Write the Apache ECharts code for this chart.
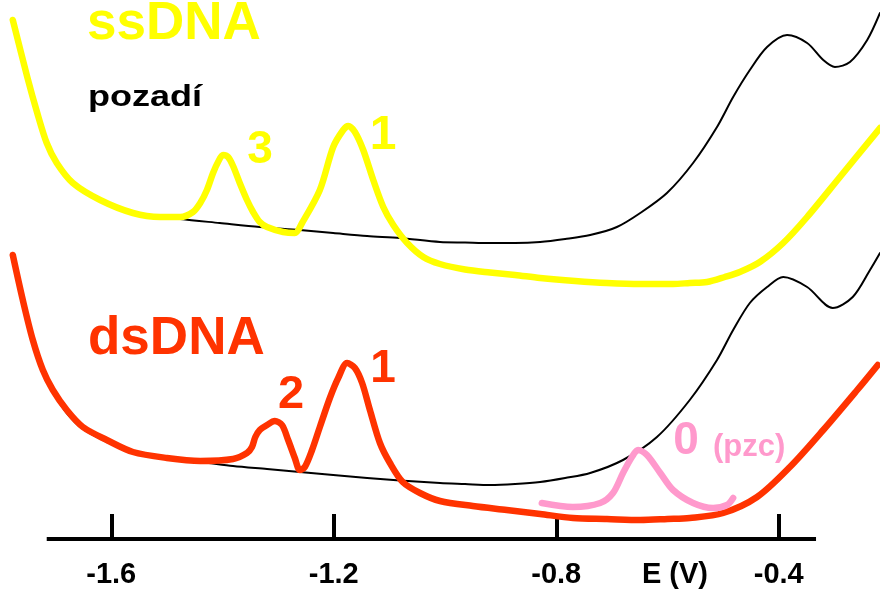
<!DOCTYPE html>
<html>
<head>
<meta charset="utf-8">
<script src="https://cdn.jsdelivr.net/npm/echarts@6/dist/echarts.min.js"></script>
<style>html,body{margin:0;padding:0;background:#fff}#c{width:880px;height:594px}</style>
</head>
<body>
<div id="c"></div>
<script>
// Potential E (V) and current (arbitrary units, 0 = axis baseline)
const tickValues = [-1.6, -1.2, -0.8, -0.4];
const axisName = 'E (V)';
const axisSpan = [-1.716, -0.333];

const ssDNA = [[-1.777,519],[-1.751,462],[-1.733,426],[-1.716,396],[-1.698,376],[-1.669,356],[-1.620,339],[-1.561,326],[-1.512,322],[-1.476,322],[-1.453,327],[-1.440,336],[-1.428,349],[-1.417,366],[-1.408,377],[-1.399,384],[-1.390,382],[-1.381,373],[-1.369,356],[-1.356,339],[-1.345,327],[-1.333,317],[-1.320,312],[-1.291,307],[-1.270,306],[-1.257,316],[-1.225,349],[-1.201,392],[-1.183,409],[-1.174,413],[-1.162,407],[-1.147,389],[-1.129,359],[-1.111,332],[-1.093,314],[-1.068,296],[-1.039,282],[-1.009,275],[-0.964,269.5],[-0.919,266.5],[-0.874,264],[-0.829,261],[-0.766,258],[-0.709,256],[-0.649,255],[-0.590,255],[-0.560,256],[-0.529,257],[-0.497,262],[-0.470,267],[-0.434,277],[-0.392,296],[-0.349,322],[-0.290,362],[-0.218,411]];

const backgroundUpper = [[-1.548,325],[-1.476,320],[-1.405,316],[-1.333,312],[-1.261,309],[-1.201,306],[-1.140,303],[-1.081,301],[-1.009,297],[-0.964,296.5],[-0.919,296],[-0.874,296],[-0.829,297],[-0.784,300],[-0.739,304],[-0.691,312],[-0.649,326],[-0.601,346],[-0.554,376],[-0.511,412],[-0.482,442],[-0.452,469],[-0.421,492],[-0.385,504],[-0.349,496],[-0.320,479],[-0.299,472],[-0.272,477],[-0.241,499],[-0.218,526]];

const dsDNA = [[-1.777,284],[-1.759,239],[-1.741,199],[-1.723,169],[-1.705,149],[-1.680,129],[-1.651,112],[-1.608,99],[-1.561,87],[-1.500,81],[-1.440,78],[-1.381,80],[-1.356,86],[-1.347,92],[-1.341,102],[-1.333,109],[-1.320,114],[-1.306,118],[-1.293,114],[-1.282,99],[-1.270,81],[-1.261,69],[-1.252,72],[-1.239,89],[-1.225,112],[-1.207,141],[-1.192,161],[-1.176,176],[-1.162,171],[-1.149,156],[-1.135,129],[-1.117,96],[-1.099,76],[-1.076,57],[-1.045,46],[-1.009,38],[-0.950,33],[-0.889,29],[-0.829,25],[-0.770,21],[-0.709,20],[-0.649,19],[-0.600,20],[-0.560,21],[-0.500,26],[-0.439,42],[-0.380,72],[-0.320,109],[-0.259,149],[-0.222,174]];

const backgroundLower = [[-1.777,284],[-1.759,239],[-1.741,198],[-1.723,168],[-1.705,147],[-1.680,126],[-1.651,110],[-1.608,97],[-1.561,86],[-1.500,80],[-1.440,77],[-1.381,73],[-1.320,70],[-1.261,67],[-1.201,64],[-1.140,61],[-1.081,58.5],[-1.009,56],[-0.964,55],[-0.919,54],[-0.874,55],[-0.829,57],[-0.784,61],[-0.739,66],[-0.680,79],[-0.619,102],[-0.560,139],[-0.511,179],[-0.482,209],[-0.452,236],[-0.421,252],[-0.392,262],[-0.349,252],[-0.303,231],[-0.267,242],[-0.236,269],[-0.218,286]];

const pzcPeak = [[-0.826,36],[-0.770,32],[-0.721,36],[-0.698,46],[-0.680,66],[-0.664,82],[-0.653,89],[-0.637,84],[-0.613,66],[-0.590,49],[-0.554,36],[-0.518,31],[-0.493,34],[-0.482,41]];

const YELLOW = '#FFFF00', RED = '#FF3300', PINK = '#FF99CC', BLACK = '#000000';

function curve(name, data, color, width, z) {
  return { name, type: 'line', data, smooth: 0.3, symbol: 'none', z,
    lineStyle: { color, width, cap: 'round', join: 'round' }, silent: true };
}

const chart = echarts.init(document.getElementById('c'), null, { renderer: 'canvas' });
chart.setOption({
  animation: false,
  backgroundColor: '#ffffff',
  grid: { left: 0, right: 0, top: 0, bottom: 55, containLabel: false },
  xAxis: {
    type: 'value', min: -1.8, max: -0.218,
    axisLine: { show: false },
    splitLine: { show: false },
    axisTick: { show: true, inside: true, length: 25, customValues: tickValues,
      lineStyle: { color: BLACK, width: 4 } },
    axisLabel: { show: true, customValues: tickValues, margin: 21,
      formatter: v => v.toFixed(1),
      color: BLACK, fontFamily: '"Liberation Sans", Arial, sans-serif', fontWeight: 'bold', fontSize: 29 }
  },
  yAxis: { type: 'value', min: 0, max: 539, show: false },
  series: [
    { name: 'axis', type: 'line', data: axisSpan.map(v => [v, 0]), symbol: 'none', z: 1,
      lineStyle: { color: BLACK, width: 4 }, silent: true },
    curve('pozadí (ssDNA)', backgroundUpper, BLACK, 2, 2),
    curve('pozadí (dsDNA)', backgroundLower, BLACK, 2, 2),
    curve('ssDNA', ssDNA, YELLOW, 6.5, 3),
    curve('dsDNA', dsDNA, RED, 6.5, 3),
    curve('pzc', pzcPeak, PINK, 6.5, 4)
  ],
  graphic: [
    { type: 'text', x: 87, y: 24, style: { text: 'ssDNA', fill: YELLOW, font: 'bold 53px "Liberation Sans", Arial', verticalAlign: 'middle', align: 'left' } },
    { type: 'text', x: 88, y: 339, style: { text: 'dsDNA', fill: RED, font: 'bold 53px "Liberation Sans", Arial', verticalAlign: 'middle', align: 'left' } },
    { type: 'text', x: 88, y: 98, scaleX: 1.2, style: { text: 'pozadí', fill: BLACK, font: 'bold 30px "Liberation Sans", Arial', verticalAlign: 'middle', align: 'left' } },
    { type: 'text', x: 260, y: 150, style: { text: '3', fill: YELLOW, font: 'bold 46px "Liberation Sans", Arial', verticalAlign: 'middle', align: 'center' } },
    { type: 'text', x: 383, y: 136, style: { text: '1', fill: YELLOW, font: 'bold 48px "Liberation Sans", Arial', verticalAlign: 'middle', align: 'center' } },
    { type: 'text', x: 291, y: 395, style: { text: '2', fill: RED, font: 'bold 47px "Liberation Sans", Arial', verticalAlign: 'middle', align: 'center' } },
    { type: 'text', x: 383, y: 369, style: { text: '1', fill: RED, font: 'bold 46px "Liberation Sans", Arial', verticalAlign: 'middle', align: 'center' } },
    { type: 'text', x: 686, y: 441, style: { text: '0', fill: PINK, font: 'bold 46px "Liberation Sans", Arial', verticalAlign: 'middle', align: 'center' } },
    { type: 'text', x: 713, y: 447, style: { text: '(pzc)', fill: PINK, font: 'bold 31px "Liberation Sans", Arial', verticalAlign: 'middle', align: 'left' } },
    { type: 'text', x: 675, y: 575, style: { text: axisName, fill: BLACK, font: 'bold 29px "Liberation Sans", Arial', verticalAlign: 'middle', align: 'center' } }
  ]
});
</script>
</body>
</html>
